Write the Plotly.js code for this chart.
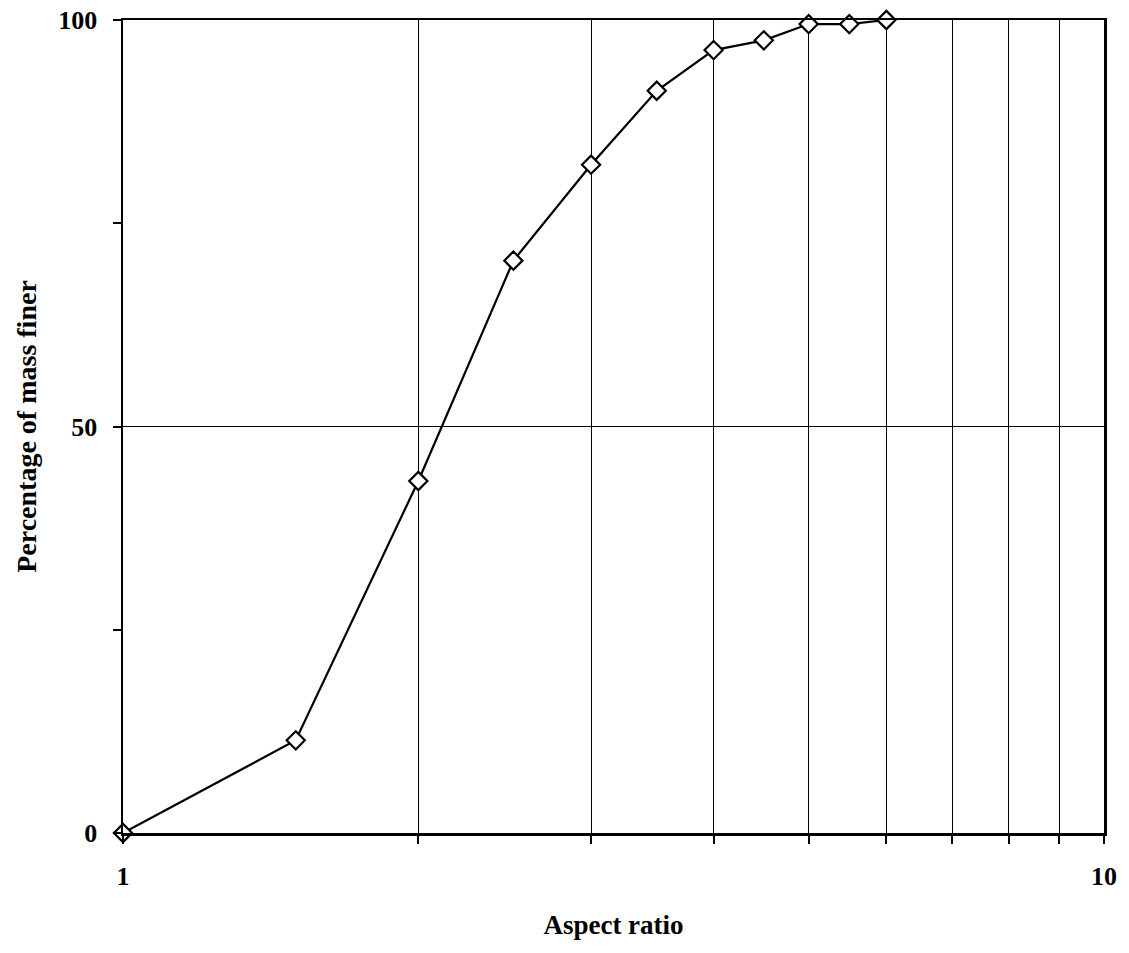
<!DOCTYPE html>
<html>
<head>
<meta charset="utf-8">
<script src="https://cdn.plot.ly/plotly-3.0.1.min.js"></script>
<style>html,body{margin:0;padding:0;background:#fff;}#chart{width:1129px;height:953px;}</style>
</head>
<body>
<div id="chart"></div>
<script>
const aspectRatio = [1, 1.5, 2, 2.5, 3, 3.5, 4, 4.5, 5, 5.5, 6];
const massFiner = [0, 11.4, 43.3, 70.4, 82.2, 91.3, 96.3, 97.5, 99.5, 99.5, 100];
const xTickVals = [1, 2, 3, 4, 5, 6, 7, 8, 9, 10];
const xTickText = ['1', '', '', '', '', '', '', '', '', '10'];
const yTickVals = [0, 50, 100];
const yTickText = ['0', '50', '100'];
const yMinorVals = [25, 75];

const fam = 'Liberation Serif, Times New Roman, serif';

const trace = {
  x: aspectRatio,
  y: massFiner,
  type: 'scatter',
  mode: 'lines+markers',
  line: {color: '#000', width: 2.2},
  marker: {symbol: 'diamond', size: 14, color: '#fff', line: {color: '#000', width: 2.2}},
  cliponaxis: false,
  showlegend: false
};

const layout = {
  width: 1129, height: 953,
  margin: {l: 123, r: 25, t: 20, b: 120},
  paper_bgcolor: '#fff', plot_bgcolor: '#fff',
  font: {family: fam, size: 26, color: '#000'},
  xaxis: {
    type: 'log', range: [0, 1],
    tickmode: 'array', tickvals: xTickVals, ticktext: xTickText,
    ticks: 'outside', ticklen: 8, tickwidth: 2, tickcolor: '#000',
    ticklabelstandoff: 10,
    showgrid: true, gridcolor: '#000', gridwidth: 1,
    showline: true, linecolor: '#000', linewidth: 2.5, mirror: true,
    zeroline: false,
    tickfont: {family: fam, size: 26, color: '#000', weight: 'bold'},
    title: {text: '<b>Aspect ratio</b>', font: {family: fam, size: 27, color: '#000'}, standoff: 26}
  },
  yaxis: {
    range: [0, 100],
    tickmode: 'array', tickvals: yTickVals, ticktext: yTickText,
    ticks: 'outside', ticklen: 8, tickwidth: 2, tickcolor: '#000',
    ticklabelstandoff: 10,
    minor: {tickmode: 'array', tickvals: yMinorVals, ticks: 'outside', ticklen: 8, tickwidth: 2, tickcolor: '#000', showgrid: false},
    showgrid: true, gridcolor: '#000', gridwidth: 1,
    showline: true, linecolor: '#000', linewidth: 2.5, mirror: true,
    zeroline: false,
    tickfont: {family: fam, size: 26, color: '#000', weight: 'bold'},
    title: {text: '<b>Percentage of mass finer</b>', font: {family: fam, size: 28, color: '#000'}, standoff: 14}
  }
};

Plotly.newPlot('chart', [trace], layout, {displayModeBar: false, staticPlot: true});
</script>
</body>
</html>
